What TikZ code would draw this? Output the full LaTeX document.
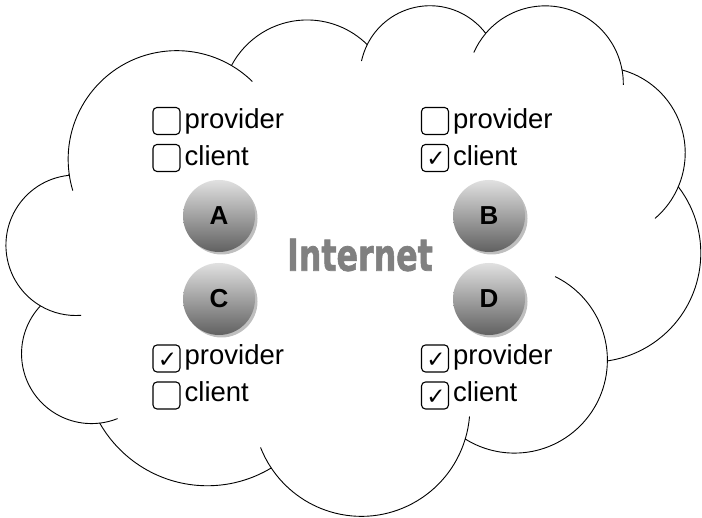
\documentclass[tikz,border=0pt]{standalone}
\usepackage{fontspec}
\setmainfont{Liberation Sans}
\newfontfamily\symbolfont{DejaVu Sans}
\newfontfamily\bannerfont[FakeBold=1.6]{DejaVu Sans}
\usetikzlibrary{shadows}
\definecolor{netgray}{HTML}{808080}

\begin{document}
\begin{tikzpicture}[x=1pt,y=1pt,
  cloudline/.style={draw=black, line width=0.9pt, line join=round},
  chkbox/.style={draw=black, line width=1.1pt, rounded corners=4pt,
    minimum size=27pt, inner sep=0pt},
  optlbl/.style={anchor=base west, inner sep=0pt,
    font=\fontsize{27.5}{27.5}\selectfont},
  chkmark/.style={inner sep=0pt, font=\symbolfont\fontsize{23}{23}\selectfont},
  ball/.style={circle, minimum size=72pt, inner sep=0pt,
    top color=black!12, bottom color=black!62,
    drop shadow={shadow xshift=2.5pt, shadow yshift=-2.5pt, fill=black, opacity=0.25},
    font=\bfseries\fontsize{26}{26}\selectfont},
  nettext/.style={inner sep=0pt, text=netgray,
    font=\bannerfont\bfseries\fontsize{44}{44}\selectfont}
]
\useasboundingbox (0,0) rectangle (702,518);
\fill[white] (0,0) rectangle (702,518);

% cloud outline: a chain of elliptic arcs
\coordinate (cs) at (69.15,344.12);
\draw[cloudline] (cs)
  arc[start angle=187.75, end angle=59.64, x radius=108.49, y radius=108.58]
  arc[start angle=152.03, end angle=45.45, x radius=85.67, y radius=85.86]
  arc[start angle=153.48, end angle=37.33, x radius=70.12, y radius=70.24]
  arc[start angle=139.72, end angle=10.21, x radius=78.03, y radius=77.92]
  arc[start angle=74.77, end angle=-23.21, x radius=85.67, y radius=85.93]
  arc[start angle=37.52, end angle=-81.86, x radius=108.84, y radius=108.93]
  arc[start angle=-0.46, end angle=-121.98, x radius=92.93, y radius=92.95]
  arc[start angle=-16.84, end angle=-146.24, x radius=108.47, y radius=108.88]
  arc[start angle=-58.99, end angle=-150.20, x radius=124.02, y radius=124.57]
  arc[start angle=-83.31, end angle=-223.13, x radius=70.04, y radius=69.92]
  arc[start angle=-120.36, end angle=-264.11, x radius=69.80, y radius=70.24]
  -- cycle;

% bump centres
\coordinate (c1) at (176.65,358.75);
\coordinate (c3) at (430.01,442.00);
\coordinate (c4) at (545.29,434.21);
\coordinate (c5) at (599.58,365.10);
\coordinate (c7) at (514.47,157.80);
\coordinate (c8) at (361.43,110.50);
\coordinate (c10) at (91.57,164.31);
\coordinate (c11) at (75.75,272.72);

% inner creases between the bumps
\draw[cloudline] (c11) ++(-85.55:69.80 and 70.24) arc[start angle=-85.55, end angle=-120.36, x radius=69.80, y radius=70.24];
\draw[cloudline] (c10) ++(-68.23:70.04 and 69.92) arc[start angle=-68.23, end angle=-83.31, x radius=70.04, y radius=69.92];
\draw[cloudline] (c8) ++(-146.24:108.47 and 108.88) arc[start angle=-146.24, end angle=-158.47, x radius=108.47, y radius=108.88];
\draw[cloudline] (c8) ++(-4.74:108.47 and 108.88) arc[start angle=-4.74, end angle=-16.84, x radius=108.47, y radius=108.88];
\draw[cloudline] (c7) ++(64.03:92.93 and 92.95) arc[start angle=64.03, end angle=-0.46, x radius=92.93, y radius=92.95];
\draw[cloudline] (c5) ++(-23.21:85.67 and 85.93) arc[start angle=-23.21, end angle=-49.65, x radius=85.67, y radius=85.93];
\draw[cloudline] (c4) ++(10.21:78.03 and 77.92) arc[start angle=10.21, end angle=-0.82, x radius=78.03, y radius=77.92];
\draw[cloudline] (c4) ++(156.29:78.03 and 77.92) arc[start angle=156.29, end angle=139.72, x radius=78.03, y radius=77.92];
\draw[cloudline] (c3) ++(167.72:70.12 and 70.24) arc[start angle=167.72, end angle=153.48, x radius=70.12, y radius=70.24];
\draw[cloudline] (c1) ++(59.64:108.49 and 108.58) arc[start angle=59.64, end angle=45.72, x radius=108.49, y radius=108.58];
\draw[cloudline] (c1) ++(-163.19:108.49 and 108.58) arc[start angle=-163.19, end angle=-172.25, x radius=108.49, y radius=108.58];

% centre label
\node[nettext] (net) at (360,263) {\scalebox{0.72}[1]{Internet}};

% the four peers
\node[ball] (A) at (219,302) {A};
\node[ball] (B) at (489,302) {B};
\node[ball] (C) at (219,219) {C};
\node[ball] (D) at (489,219) {D};

% peer A options
\node[chkbox] (Ap) at (166.5,397) {};
\node[optlbl] (Apt) at (184.5,389.7) {provider};
\node[chkbox] (Ac) at (166.5,360) {};
\node[optlbl] (Act) at (184.5,352.7) {client};

% peer B options
\node[chkbox] (Bp) at (435,397) {};
\node[optlbl] (Bpt) at (453,389.7) {provider};
\node[chkbox] (Bc) at (435,360) {};
\node[optlbl] (Bct) at (453,352.7) {client};
\node[chkmark] (Bcm) at ([shift={(1,-1.5)}]Bc.center) {✓};

% peer C options
\node[chkbox] (Cp) at (166.5,159.5) {};
\node[optlbl] (Cpt) at (184.5,153) {provider};
\node[chkmark] (Cpm) at ([shift={(1,-1.5)}]Cp.center) {✓};
\node[chkbox] (Cc) at (166.5,122.5) {};
\node[optlbl] (Cct) at (184.5,116) {client};

% peer D options
\node[chkbox] (Dp) at (435,159.5) {};
\node[optlbl] (Dpt) at (453,153) {provider};
\node[chkmark] (Dpm) at ([shift={(1,-1.5)}]Dp.center) {✓};
\node[chkbox] (Dc) at (435,122.5) {};
\node[optlbl] (Dct) at (453,116) {client};
\node[chkmark] (Dcm) at ([shift={(1,-1.5)}]Dc.center) {✓};
\end{tikzpicture}
\end{document}
